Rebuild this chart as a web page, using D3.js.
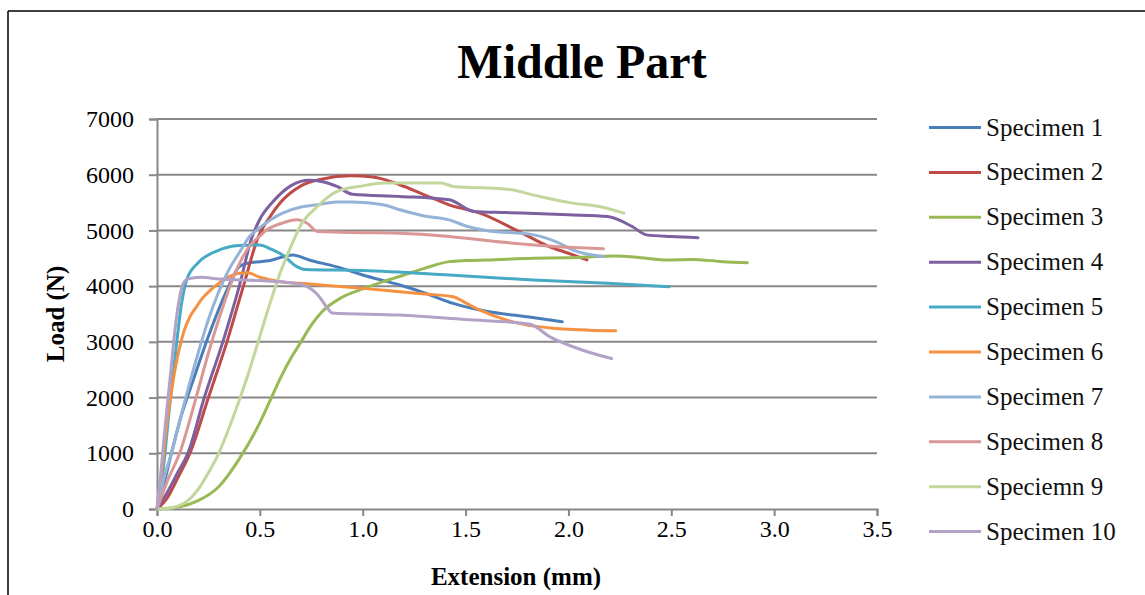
<!DOCTYPE html>
<html>
<head>
<meta charset="utf-8">
<script src="https://cdn.jsdelivr.net/npm/d3@7"></script>
<style>
  body { margin: 0; background: #fff; }
  text { font-family: "Liberation Serif", "Times New Roman", serif; }
</style>
</head>
<body>
<div id="chart-area"></div>
<script>
// load (N) vs extension (mm)
const spec1 = [[0,0],[0.03,400],[0.07,1000],[0.12,1700],[0.175,2300],[0.25,3100],[0.34,3930],[0.4,4350],[0.44,4410],[0.55,4460],[0.66,4560],[0.74,4470],[0.87,4350],[1.0,4200],[1.18,4020],[1.3,3880],[1.44,3690],[1.6,3550],[1.8,3450],[1.97,3360]];
const spec2 = [[0,0],[0.05,200],[0.1,550],[0.16,1000],[0.25,2000],[0.34,3000],[0.42,4000],[0.49,4860],[0.55,5250],[0.6,5500],[0.7,5800],[0.8,5920],[0.94,5980],[1.05,5960],[1.18,5820],[1.3,5640],[1.42,5460],[1.57,5310],[1.76,4980],[1.9,4720],[2.0,4590],[2.09,4470]];
const spec3 = [[0,0],[0.1,30],[0.2,150],[0.3,400],[0.4,900],[0.5,1550],[0.55,1950],[0.6,2350],[0.65,2700],[0.7,3000],[0.75,3300],[0.8,3530],[0.9,3800],[1.0,3950],[1.1,4080],[1.2,4200],[1.3,4320],[1.42,4440],[1.5,4460],[1.6,4470],[1.83,4500],[2.0,4510],[2.23,4540],[2.35,4510],[2.48,4470],[2.6,4480],[2.75,4440],[2.87,4420]];
const spec4 = [[0,0],[0.05,300],[0.1,650],[0.15,1000],[0.23,2000],[0.32,3000],[0.4,4000],[0.46,4860],[0.5,5200],[0.56,5500],[0.65,5800],[0.74,5900],[0.8,5880],[0.875,5790],[0.95,5650],[1.18,5610],[1.42,5550],[1.54,5340],[1.7,5320],[2.0,5280],[2.19,5250],[2.31,5070],[2.38,4920],[2.5,4890],[2.63,4870]];
const spec5 = [[0,0],[0.03,700],[0.06,1800],[0.09,2800],[0.12,3700],[0.145,4120],[0.2,4420],[0.29,4630],[0.4,4730],[0.5,4740],[0.55,4670],[0.61,4560],[0.68,4350],[0.72,4300],[1.0,4280],[1.42,4200],[1.83,4110],[2.19,4050],[2.49,3990]];
const spec6 = [[0,0],[0.03,900],[0.05,1600],[0.07,2100],[0.09,2550],[0.11,2900],[0.13,3180],[0.16,3450],[0.19,3620],[0.22,3780],[0.26,3930],[0.3,4050],[0.35,4170],[0.4,4230],[0.44,4240],[0.5,4160],[0.6,4080],[0.7,4050],[1.0,3960],[1.18,3900],[1.3,3860],[1.44,3810],[1.5,3700],[1.57,3570],[1.7,3390],[1.8,3300],[1.94,3240],[2.1,3210],[2.23,3200]];
const spec7 = [[0,0],[0.03,500],[0.07,1000],[0.14,2000],[0.2,2800],[0.25,3400],[0.3,3900],[0.35,4300],[0.4,4600],[0.45,4890],[0.5,5050],[0.61,5310],[0.7,5420],[0.78,5460],[0.87,5510],[0.95,5510],[1.1,5460],[1.18,5370],[1.3,5260],[1.42,5190],[1.51,5070],[1.6,5000],[1.83,4920],[1.95,4780],[2.02,4650],[2.17,4530]];
const spec8 = [[0,0],[0.05,500],[0.11,1000],[0.19,2000],[0.25,2800],[0.3,3400],[0.35,3950],[0.4,4400],[0.45,4720],[0.5,4900],[0.53,5000],[0.6,5120],[0.68,5190],[0.73,5130],[0.78,4980],[1.0,4960],[1.18,4950],[1.42,4890],[1.6,4820],[1.83,4740],[2.0,4700],[2.17,4670]];
const spec9 = [[0,0],[0.05,10],[0.1,50],[0.15,150],[0.2,350],[0.25,650],[0.3,1000],[0.35,1450],[0.4,1950],[0.45,2500],[0.5,3100],[0.55,3700],[0.6,4250],[0.65,4700],[0.7,5100],[0.78,5430],[0.87,5690],[1.0,5800],[1.1,5850],[1.38,5850],[1.44,5790],[1.7,5740],[1.86,5610],[2.02,5490],[2.15,5430],[2.27,5310]];
const spec10 = [[0,0],[0.02,700],[0.04,1500],[0.063,2320],[0.09,3300],[0.11,3800],[0.128,4050],[0.15,4130],[0.21,4160],[0.3,4130],[0.5,4100],[0.65,4060],[0.73,3990],[0.78,3850],[0.83,3600],[0.85,3520],[1.18,3480],[1.5,3400],[1.81,3320],[1.91,3090],[2.07,2850],[2.21,2700]];

const seriesNames = ["Specimen 1", "Specimen 2", "Specimen 3", "Specimen 4", "Specimen 5",
                     "Specimen 6", "Specimen 7", "Specimen 8", "Speciemn 9", "Specimen 10"];
const seriesData = [spec1, spec2, spec3, spec4, spec5, spec6, spec7, spec8, spec9, spec10];
const xTicks = [0, 0.5, 1.0, 1.5, 2.0, 2.5, 3.0, 3.5];
const yTicks = [0, 1000, 2000, 3000, 4000, 5000, 6000, 7000];

const colors = ["#4A7EBB", "#BE4B48", "#98B954", "#7D60A0", "#46AAC5",
                "#F59140", "#95B3D7", "#D99795", "#C3D69B", "#B3A2C7"];

const width = 1145, height = 595;
const svg = d3.select("#chart-area").append("svg")
    .attr("width", width)
    .attr("height", height);

// outer frame (only top and left edges are visible)
svg.append("line").attr("x1", 8).attr("y1", 11).attr("x2", width).attr("y2", 11)
    .attr("stroke", "#000").attr("stroke-width", 1.5);
svg.append("line").attr("x1", 8).attr("y1", 11).attr("x2", 8).attr("y2", height)
    .attr("stroke", "#000").attr("stroke-width", 1.5);

const x = d3.scaleLinear().domain([0, 3.5]).range([157, 877]);
const y = d3.scaleLinear().domain([0, 7000]).range([509, 119]);

// gridlines
svg.append("g")
    .selectAll("line")
    .data(yTicks.slice(1))
    .enter()
    .append("line")
    .attr("x1", x(0))
    .attr("x2", x(3.5))
    .attr("y1", d => y(d))
    .attr("y2", d => y(d))
    .attr("stroke", "#878787")
    .attr("stroke-width", 2);

// y axis
const yAxis = svg.append("g")
    .attr("transform", "translate(" + x(0) + ",0)")
    .call(d3.axisLeft(y).tickValues(yTicks).tickSize(8).tickPadding(15).tickFormat(d3.format("d")));
// x axis
const xAxis = svg.append("g")
    .attr("transform", "translate(0," + y(0) + ")")
    .call(d3.axisBottom(x).tickValues(xTicks).tickSize(7).tickPadding(4).tickFormat(d3.format(".1f")));

[yAxis, xAxis].forEach(function (a) {
    a.select(".domain").attr("stroke", "#878787").attr("stroke-width", 2);
    a.selectAll(".tick line").attr("stroke", "#878787").attr("stroke-width", 2);
    a.selectAll(".tick text")
        .attr("fill", "#000")
        .style("font-family", "'Liberation Serif', serif")
        .style("font-size", "24px");
});

const line = d3.line()
    .x(d => x(d[0]))
    .y(d => y(d[1]))
    .curve(d3.curveMonotoneX);

svg.append("g")
    .selectAll("path")
    .data(seriesData)
    .enter()
    .append("path")
    .attr("d", line)
    .attr("fill", "none")
    .attr("stroke", (d, i) => colors[i])
    .attr("stroke-width", 3)
    .attr("stroke-linejoin", "round")
    .attr("stroke-linecap", "round");

// title and axis titles
svg.append("text")
    .attr("x", 582)
    .attr("y", 78)
    .attr("text-anchor", "middle")
    .style("font-size", "48px")
    .style("font-weight", "bold")
    .text("Middle Part");

svg.append("text")
    .attr("x", 516)
    .attr("y", 585)
    .attr("text-anchor", "middle")
    .style("font-size", "25px")
    .style("font-weight", "bold")
    .text("Extension (mm)");

svg.append("text")
    .attr("transform", "translate(64,314) rotate(-90)")
    .attr("text-anchor", "middle")
    .style("font-size", "25px")
    .style("font-weight", "bold")
    .text("Load (N)");

// legend
const legend = svg.append("g")
    .selectAll("g")
    .data(seriesNames)
    .enter()
    .append("g")
    .attr("transform", (d, i) => "translate(929," + (127.5 + i * 44.9) + ")");

legend.append("line")
    .attr("x1", 0).attr("x2", 52)
    .attr("stroke", (d, i) => colors[i])
    .attr("stroke-width", 3);

legend.append("text")
    .attr("x", 57)
    .attr("y", 8)
    .style("font-size", "25px")
    .attr("fill", "#111")
    .text(d => d);
</script>
</body>
</html>
